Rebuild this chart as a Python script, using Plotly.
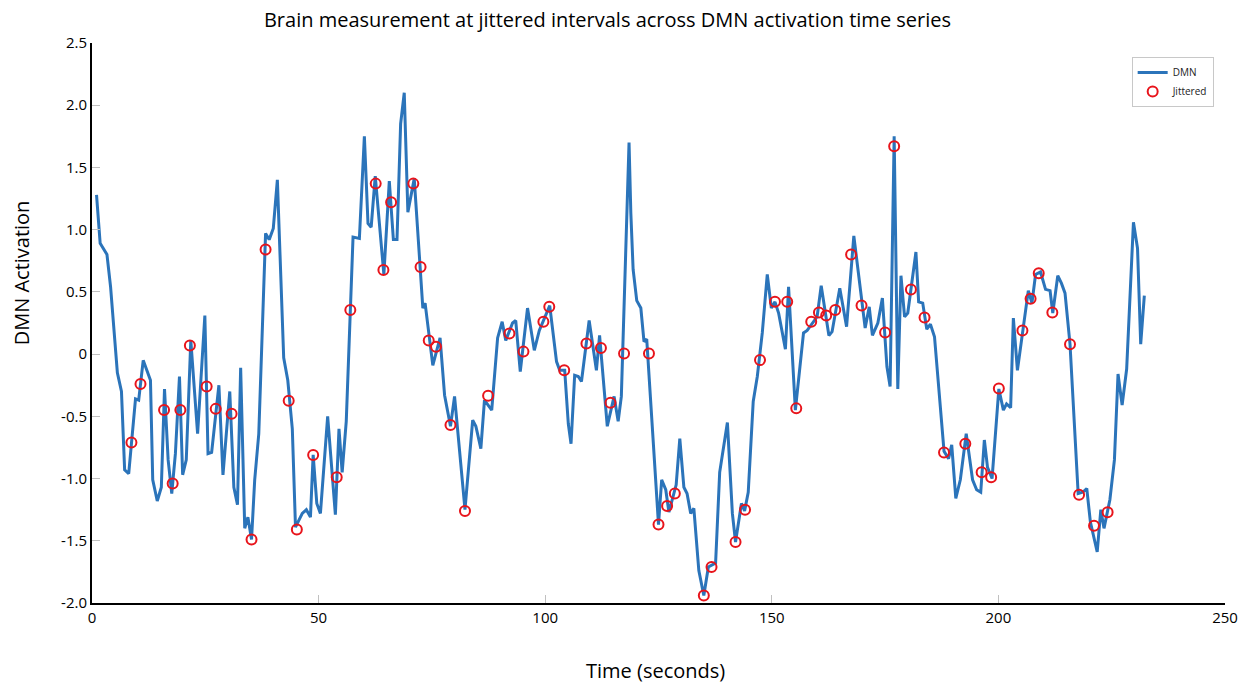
import plotly.graph_objects as go

# DMN activation time series (seconds, activation)
t_dmn = [1.0, 1.8, 3.3, 4.1, 5.6, 6.5, 7.2, 8.1, 9.6, 10.3, 11.3, 12.9, 13.4, 14.4, 15.3, 16.0,
         16.8, 17.6, 18.4, 19.3, 20.0, 20.8, 21.8, 23.3, 24.9, 25.6, 26.4, 28.0, 28.9, 30.4, 31.3,
         32.1, 32.8, 33.7, 34.4, 35.2, 35.9, 36.8, 38.3, 39.1, 40.0, 40.9, 42.3, 43.2, 44.2, 44.9,
         46.4, 47.3, 48.2, 48.8, 49.6, 50.4, 52.0, 53.0, 53.7, 54.5, 55.2, 56.1, 57.6, 59.0, 60.1,
         60.9, 61.6, 62.5, 64.4, 65.6, 66.5, 67.3, 68.1, 68.9, 69.7, 71.1, 73.0, 73.5, 75.2, 76.8,
         77.8, 79.1, 80.0, 82.3, 84.0, 84.7, 85.8, 86.6, 88.2, 89.5, 90.5, 91.3, 92.8, 93.5, 94.5,
         96.1, 97.6, 98.7, 101.0, 102.5, 103.2, 104.3, 105.1, 105.7, 106.5, 107.3, 108.0, 109.7,
         111.3, 112.0, 113.7, 115.2, 116.1, 116.8, 117.9, 118.5, 118.9, 119.4, 120.2, 121.1, 121.8,
         122.4, 125.0, 125.7, 126.6, 127.3, 128.9, 129.7, 130.6, 131.3, 132.1, 132.8, 133.9, 135.0,
         136.0, 137.6, 138.5, 140.2, 141.3, 142.0, 143.3, 144.0, 144.8, 145.9, 146.8, 147.9, 149.0,
         149.9, 150.7, 151.5, 153.0, 153.7, 155.2, 157.0, 157.8, 160.0, 160.9, 162.6, 163.3, 165.0,
         166.5, 168.1, 170.6, 171.5, 172.2, 173.4, 174.4, 175.4, 176.1, 176.5, 177.0, 177.8, 178.5,
         179.3, 180.0, 181.8, 182.4, 183.3, 184.2, 185.0, 185.9, 188.0, 189.0, 189.7, 190.6, 191.6,
         192.9, 194.3, 195.2, 196.1, 196.9, 197.6, 198.6, 200.1, 201.1, 201.8, 202.7, 203.3, 204.2,
         206.6, 207.4, 208.2, 209.3, 210.4, 211.4, 212.0, 213.1, 213.9, 214.7, 215.8, 217.6, 218.6,
         219.5, 220.3, 221.8, 222.6, 223.3, 224.6, 225.6, 226.4, 227.3, 228.3, 229.8, 230.7, 231.4,
         232.2]
v_dmn = [1.28, 0.89, 0.80, 0.54, -0.15, -0.30, -0.93, -0.96, -0.36, -0.37, -0.05, -0.21, -1.01,
         -1.18, -1.07, -0.28, -0.85, -1.12, -0.80, -0.18, -0.97, -0.85, 0.11, -0.64, 0.31, -0.80,
         -0.79, -0.25, -0.97, -0.30, -1.07, -1.21, -0.11, -1.40, -1.31, -1.49, -1.01, -0.64, 0.97,
         0.92, 1.01, 1.40, -0.03, -0.21, -0.60, -1.39, -1.28, -1.25, -1.31, -0.81, -1.20, -1.28,
         -0.50, -0.96, -1.29, -0.60, -0.95, -0.54, 0.94, 0.93, 1.75, 1.05, 1.02, 1.43, 0.64, 1.39,
         0.92, 0.92, 1.85, 2.10, 1.14, 1.41, 0.37, 0.41, -0.09, 0.13, -0.33, -0.58, -0.34, -1.25,
         -0.53, -0.58, -0.76, -0.37, -0.45, 0.13, 0.26, 0.11, 0.25, 0.27, -0.14, 0.37, 0.03, 0.19,
         0.39, -0.06, -0.13, -0.13, -0.56, -0.72, -0.17, -0.18, -0.22, 0.27, -0.13, 0.15, -0.58,
         -0.34, -0.54, -0.34, 0.92, 1.70, 1.13, 0.68, 0.43, 0.37, 0.10, 0.12, -1.37, -1.01, -1.09,
         -1.27, -1.05, -0.68, -1.07, -1.12, -1.28, -1.24, -1.74, -1.94, -1.71, -1.68, -0.95, -0.55,
         -1.28, -1.51, -1.20, -1.26, -1.11, -0.38, -0.18, 0.17, 0.64, 0.37, 0.42, 0.33, 0.04, 0.54,
         -0.45, 0.17, 0.19, 0.30, 0.55, 0.15, 0.18, 0.53, 0.22, 0.95, 0.21, 0.38, 0.15, 0.25, 0.45,
         -0.10, -0.26, 0.65, 1.75, -0.28, 0.63, 0.30, 0.33, 0.82, 0.42, 0.41, 0.20, 0.24, 0.14,
         -0.78, -0.84, -0.73, -1.16, -1.01, -0.64, -1.01, -1.09, -1.11, -0.69, -0.91, -1.00, -0.28,
         -0.45, -0.40, -0.43, 0.29, -0.13, 0.51, 0.41, 0.64, 0.66, 0.52, 0.51, 0.33, 0.63, 0.57,
         0.49, 0.08, -1.12, -1.11, -1.08, -1.35, -1.59, -1.25, -1.40, -1.17, -0.85, -0.16, -0.41,
         -0.12, 1.06, 0.85, 0.08, 0.47]

# Measurements taken at jittered times
t_jit = [8.7, 10.7, 15.9, 17.8, 19.5, 21.6, 25.3, 27.3, 30.8, 35.2, 38.3, 43.4, 45.2, 48.8, 54.0,
         57.0, 62.6, 64.3, 66.0, 70.9, 72.5, 74.3, 75.9, 79.1, 82.3, 87.4, 92.1, 95.2, 99.6, 100.9,
         104.2, 109.1, 112.3, 114.4, 117.4, 122.9, 125.0, 126.9, 128.6, 135.0, 136.7, 142.0, 144.1,
         147.4, 150.7, 153.4, 155.4, 158.7, 160.4, 162.0, 164.0, 167.5, 169.8, 175.0, 177.0, 180.7,
         183.7, 188.0, 192.7, 196.3, 198.4, 200.1, 205.3, 207.1, 208.9, 211.9, 215.8, 217.8, 221.1,
         224.1]
v_jit = [-0.71, -0.24, -0.45, -1.04, -0.45, 0.07, -0.26, -0.44, -0.48, -1.49, 0.84, -0.375, -1.41,
         -0.81, -0.99, 0.354, 1.37, 0.675, 1.22, 1.37, 0.70, 0.11, 0.06, -0.57, -1.26, -0.335, 0.166,
         0.02, 0.26, 0.38, -0.13, 0.086, 0.05, -0.39, 0.005, 0.005, -1.37, -1.22, -1.12, -1.94, -1.71,
         -1.51, -1.25, -0.048, 0.42, 0.42, -0.436, 0.26, 0.335, 0.31, 0.354, 0.80, 0.39, 0.174, 1.67,
         0.52, 0.295, -0.79, -0.72, -0.95, -0.99, -0.276, 0.19, 0.445, 0.65, 0.335, 0.08, -1.13,
         -1.38, -1.27]

y_ticks = [-2.0, -1.5, -1.0, -0.5, 0, 0.5, 1.0, 1.5, 2.0, 2.5]
y_tick_text = ["-2.0", "-1.5", "-1.0", "-0.5", "0", "0.5", "1.0", "1.5", "2.0", "2.5"]
x_ticks = [0, 50, 100, 150, 200, 250]

FONT = "Open Sans"

fig = go.Figure()
fig.add_trace(go.Scatter(
    x=t_dmn, y=v_dmn, mode="lines", name="DMN",
    line=dict(color="#2b74ba", width=3),
))
fig.add_trace(go.Scatter(
    x=t_jit, y=v_jit, mode="markers", name="Jittered",
    marker=dict(symbol="circle-open", size=10, color="#e8141b", line=dict(width=2, color="#e8141b")),
))

fig.update_layout(
    width=1250, height=683,
    margin=dict(l=92, r=23, t=43, b=80),
    paper_bgcolor="white", plot_bgcolor="white",
    font=dict(family=FONT, color="black"),
    title=dict(
        text="Brain measurement at jittered intervals across DMN activation time series",
        x=0.486, xanchor="center", y=0.97, yanchor="middle",
        font=dict(size=20, family=FONT, color="black"),
    ),
    showlegend=True,
    legend=dict(
        x=0.99, y=0.975, xanchor="right", yanchor="top",
        bgcolor="white", bordercolor="#c8c8c8", borderwidth=1,
        font=dict(size=10, family=FONT, color="#222222"),
        tracegroupgap=0, itemwidth=30,
    ),
)

fig.update_xaxes(
    range=[0, 250], tickvals=x_ticks, ticktext=[str(v) for v in x_ticks],
    showgrid=False, zeroline=False,
    showline=True, linecolor="black", linewidth=2,
    ticks="inside", ticklen=8, tickcolor="#c0c0c0", tickwidth=1,
    tickfont=dict(size=15, family=FONT, color="black"),
)
fig.update_yaxes(
    range=[-2.0, 2.5], tickvals=y_ticks, ticktext=y_tick_text,
    showgrid=False, zeroline=False,
    showline=True, linecolor="black", linewidth=2,
    ticks="inside", ticklen=8, tickcolor="#c0c0c0", tickwidth=1,
    tickfont=dict(size=15, family=FONT, color="black"),
)

# Axis titles
fig.add_annotation(
    text="Time (seconds)", xref="paper", yref="paper", x=0.497, y=-0.12,
    xanchor="center", yanchor="middle", showarrow=False,
    font=dict(size=20, family=FONT, color="black"),
)
fig.add_annotation(
    text="DMN Activation", xref="paper", yref="paper", x=-0.062, y=0.59,
    xanchor="center", yanchor="middle", showarrow=False, textangle=-90,
    font=dict(size=20, family=FONT, color="black"),
)

fig.write_html("out.html")
